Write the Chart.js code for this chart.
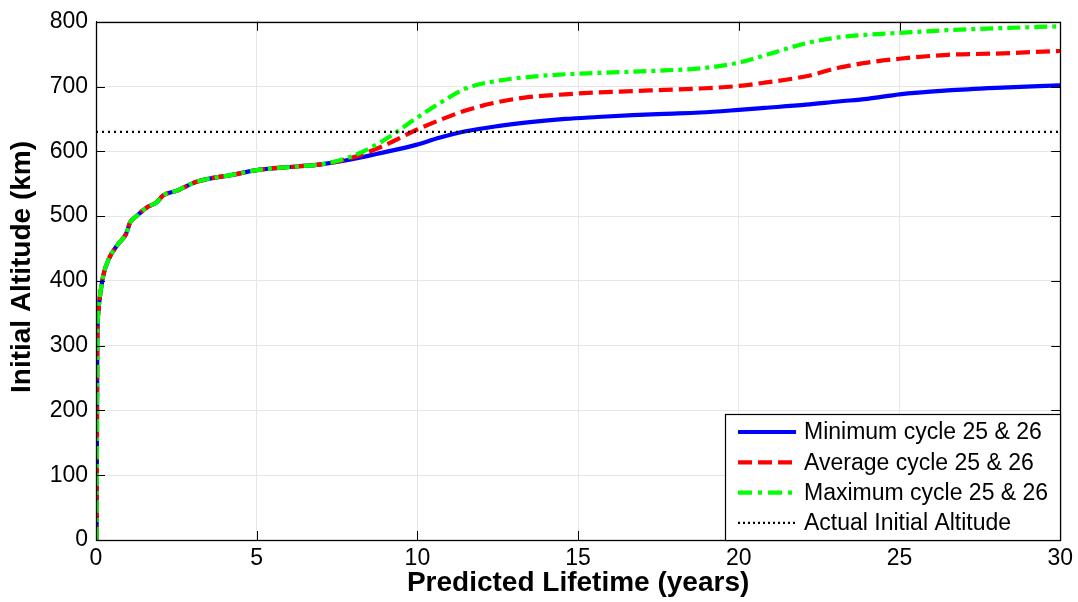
<!DOCTYPE html>
<html><head><meta charset="utf-8">
<script src="https://cdn.jsdelivr.net/npm/chart.js@4/dist/chart.umd.min.js"></script>
<style>html,body{margin:0;padding:0;background:#fff;}canvas{display:block;}</style>
</head><body>
<canvas id="c" width="1078" height="602"></canvas>
<script>
const years = [0.02,0.03,0.04,0.07,0.12,0.23,0.38,0.69,0.93,1.06,1.26,1.57,1.88,2.09,2.5,3.13,4.27,5.0,6.34,7.0,7.89,8.92,9.96,10.68,11.5,12.5,13.5,14.6,15.6,16.7,17.7,18.8,20.0,20.8,22.1,23.1,24.0,25.0,26.5,28.0,30.0];
const minCycle = [0,150,300,350,375,409,432,457,472,490,500,513,521,532,539,553,564,571,577,580,587,598,610,621,631,639,645,650,653,656,658,660,664,667,672,677,681,688,694,698,702];
const avgCycle = [0,150,300,350,375,409,432,457,472,490,500,513,521,532,539,553,564,571,577,580,589,608,633,648,663,676,684,688,691,693,695,697,701,706,716,729,737,743,749,751,755];
const maxCycle = [0,150,300,350,375,409,432,457,472,490,500,513,521,532,539,553,564,571,577,580,591,616,651,674,697,709,715,719,721,723,725,728,737,748,767,776,780,783,787,790,793];
const actualAltitude = 630;
const xTicks = [0,5,10,15,20,25,30];
const yTicks = [0,100,200,300,400,500,600,700,800];
const seriesLabels = ['Minimum cycle 25 & 26','Average cycle 25 & 26','Maximum cycle 25 & 26','Actual Initial Altitude'];
const xTitle = 'Predicted Lifetime (years)';
const yTitle = 'Initial Altitude (km)';

const FONT = "'Liberation Sans', Arial, sans-serif";
const toPts = arr => years.map((x,i)=>({x:x, y:arr[i]}));

const axesPlugin = {
  id:'axesBox',
  afterDatasetsDraw(chart){
    const ctx = chart.ctx, a = chart.chartArea;
    const xs = chart.scales.x, ys = chart.scales.y;
    ctx.save();
    ctx.strokeStyle = '#000'; ctx.lineWidth = 1;
    ctx.beginPath();
    xTicks.forEach(v=>{
      const px = Math.round(xs.getPixelForValue(v))+0.5;
      ctx.moveTo(px, a.bottom); ctx.lineTo(px, a.bottom-9);
      ctx.moveTo(px, a.top); ctx.lineTo(px, a.top+9);
    });
    yTicks.forEach(v=>{
      const py = Math.round(ys.getPixelForValue(v))+0.5;
      ctx.moveTo(a.left, py); ctx.lineTo(a.left+9, py);
      ctx.moveTo(a.right, py); ctx.lineTo(a.right-9, py);
    });
    ctx.stroke();
    ctx.lineWidth = 1.3;
    ctx.strokeRect(Math.round(a.left)+0.5, Math.round(a.top)+0.5, Math.round(a.right-a.left), Math.round(a.bottom-a.top));
    ctx.restore();
  }
};

const yTitlePlugin = {
  id:'yTitle',
  afterDraw(chart){
    const ctx = chart.ctx;
    ctx.save();
    ctx.translate(22, 267);
    ctx.rotate(-Math.PI/2);
    ctx.fillStyle = '#000';
    ctx.font = "bold 28px " + FONT;
    ctx.textAlign = 'center';
    ctx.textBaseline = 'middle';
    ctx.fillText(yTitle, 0, 0);
    ctx.restore();
  }
};

const legendPlugin = {
  id:'boxLegend',
  afterDraw(chart){
    const ctx = chart.ctx, a = chart.chartArea;
    const bw = 335, bh = 126;
    const bx = Math.round(a.right) - bw, by = Math.round(a.bottom) - bh;
    ctx.save();
    ctx.fillStyle = '#fff';
    ctx.fillRect(bx, by, bw, bh);
    ctx.strokeStyle = '#000'; ctx.lineWidth = 1.2;
    ctx.strokeRect(bx+0.5, by+0.5, bw, bh);
    chart.data.datasets.forEach((ds,i)=>{
      const y = by + 18 + i*30.3;
      ctx.save();
      ctx.strokeStyle = ds.borderColor;
      ctx.lineWidth = ds.borderWidth;
      ctx.setLineDash(ds.legendDash || ds.borderDash || []);
      ctx.beginPath(); ctx.moveTo(bx+13, y); ctx.lineTo(bx+71, y); ctx.stroke();
      ctx.restore();
      ctx.fillStyle = '#000';
      ctx.font = "23px " + FONT;
      ctx.textBaseline = 'middle';
      ctx.textAlign = 'left';
      ctx.fillText(ds.label, bx+79, y+1);
    });
    ctx.restore();
  }
};

new Chart(document.getElementById('c'), {
  type:'line',
  data:{
    datasets:[
      {label:seriesLabels[0], data:toPts(minCycle), borderColor:'#0000ff', borderWidth:4.2, borderDash:[], order:3},
      {label:seriesLabels[1], data:toPts(avgCycle), borderColor:'#ff0000', borderWidth:4.2, borderDash:[14,6], legendDash:[14,6], order:2},
      {label:seriesLabels[2], data:toPts(maxCycle), borderColor:'#00ff00', borderWidth:4.2, borderDash:[13,5,4,5], legendDash:[14,6,4,6], order:1},
      {label:seriesLabels[3], data:[{x:xTicks[0],y:actualAltitude},{x:xTicks[xTicks.length-1],y:actualAltitude}], borderColor:'#000000', borderWidth:2.2, borderDash:[2,4], legendDash:[2,3], order:0, cubicInterpolationMode:'default', tension:0}
    ]
  },
  options:{
    responsive:false, animation:false, devicePixelRatio:1,
    layout:{padding:{left:0, top:18, right:16, bottom:0}},
    elements:{point:{radius:0}, line:{cubicInterpolationMode:'monotone', fill:false}},
    plugins:{legend:{display:false}, tooltip:{enabled:false}},
    scales:{
      x:{
        type:'linear', min:xTicks[0], max:xTicks[xTicks.length-1],
        afterBuildTicks: s=>{ s.ticks = xTicks.map(v=>({value:v})); },
        ticks:{font:{size:23, family:FONT}, color:'#000', padding:5, maxRotation:0, autoSkip:false},
        grid:{color:'#e6e6e6', drawTicks:false, lineWidth:1},
        border:{display:true, color:'#000', width:1},
        title:{display:true, text:xTitle, color:'#000', font:{size:28, weight:'bold', family:FONT}, padding:{top:0, bottom:2}},
        afterFit: s=>{ s.height = 62; }
      },
      y:{
        type:'linear', min:yTicks[0], max:yTicks[yTicks.length-1],
        afterBuildTicks: s=>{ s.ticks = yTicks.map(v=>({value:v})); },
        ticks:{font:{size:23, family:FONT}, color:'#000', padding:8, autoSkip:false},
        grid:{color:'#e6e6e6', drawTicks:false, lineWidth:1},
        border:{display:true, color:'#000', width:1},
        title:{display:false},
        afterFit: s=>{ s.width = 96; }
      }
    }
  },
  plugins:[axesPlugin, yTitlePlugin, legendPlugin]
});
</script>
</body></html>
